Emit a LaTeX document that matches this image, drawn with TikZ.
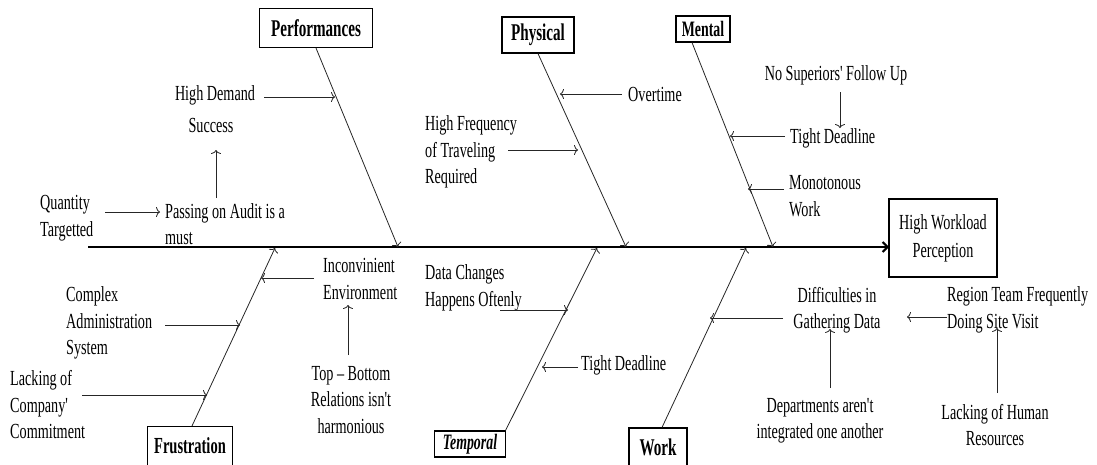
\documentclass[tikz,border=0pt]{standalone}
\usepackage{fontspec}
\setmainfont[FakeStretch=0.66, Ligatures=TeXOff]{Liberation Serif}
\newfontfamily\catfont[FakeStretch=0.63, Ligatures=TeXOff]{Liberation Serif}
\usetikzlibrary{arrows.meta}
\begin{document}
\begin{tikzpicture}[x=1pt,y=-1pt,
  lbl/.style={inner sep=0pt, font=\fontsize{21.5}{26.5}\selectfont, align=left},
  lblc/.style={lbl, align=center},
  cat/.style={draw, line width=1.1pt, inner sep=0pt, font=\catfont\bfseries\fontsize{24}{26}\selectfont},
  bone/.style={draw=black!85, line width=0.8pt, -{To[length=4pt,width=10pt]}},
  cause/.style={draw=black!85, line width=0.8pt, -{To[length=4pt,width=10pt]}},
  spine/.style={line width=2.6pt, -{Straight Barb[length=5pt,width=10pt,line width=2pt]}}
]
\useasboundingbox (0,0) rectangle (1097,464);
% category boxes
\node[cat, minimum width=113pt, minimum height=39pt] (perf) at (316,28) {Performances};
\node[cat, minimum width=72pt, minimum height=36pt] (phys) at (538,35) {Physical};
\node[cat, minimum width=54pt, minimum height=26pt, font=\catfont\bfseries\fontsize{22}{24}\selectfont] (ment) at (703,29) {Mental};
\node[cat, minimum width=85pt, minimum height=39pt, font=\catfont\bfseries\fontsize{23}{25}\selectfont] (frus) at (190,446) {Frustration};
\node[cat, minimum width=71pt, minimum height=26pt, font=\catfont\bfseries\itshape\fontsize{22}{24}\selectfont] (temp) at (470,444) {Temporal};
\node[cat, minimum width=58pt, minimum height=38pt] (work) at (658,447) {Work};
\node[draw, line width=1.1pt, inner sep=0pt, minimum width=108pt, minimum height=78pt, align=center, font=\fontsize{21.5}{28}\selectfont] (hwp) at (943,238) {High Workload\\Perception};
% spine
\coordinate (sp0) at (88,247);
\coordinate (sp1) at (889,247);
\draw[spine] (sp0) -- (sp1);
% bone ends on spine
\coordinate (pe) at (398,247);
\coordinate (phe) at (626,247);
\coordinate (me) at (773,247);
\coordinate (fe) at (275,248);
\coordinate (te) at (597,248);
\coordinate (we) at (746,248);
\draw[bone] (perf.south) -- (pe);
\draw[bone] (phys.south) -- (phe);
\draw[bone] ([xshift=-11pt]ment.south) -- (me);
\draw[bone] ([xshift=2pt]frus.north) -- (fe);
\draw[bone] ([xshift=-0.5pt]temp.north east) -- (te);
\draw[bone] ([xshift=4pt]work.north) -- (we);
% text labels
\node[lblc] (hd) at (215,95) {High Demand};
\node[lblc] (succ) at (211,125) {Success};
\node[lbl, anchor=west] (pass) at (165,224) {Passing on Audit is a\\must};
\node[lbl, anchor=west] (qt) at (40,218) {Quantity\\Targetted};
\node[lbl, anchor=west] (ot) at (628,94) {Overtime};
\node[lbl, anchor=west] (hft) at (425,152) {High Frequency\\of Traveling\\Required};
\node[lblc] (nsf) at (836,75) {No Superiors' Follow Up};
\node[lbl, anchor=west] (td1) at (790,138) {Tight Deadline};
\node[lbl, anchor=west] (mw) at (789,196) {Monotonous\\Work};
\node[lbl, anchor=west] (ie) at (323,279) {Inconvinient\\Environment};
\node[lblc] (tb) at (351,400) {Top – Bottom\\Relations isn't\\harmonious};
\node[lbl, anchor=west] (cas) at (66,323) {Complex\\Administration\\System};
\node[lbl, anchor=west] (lcc) at (10,405) {Lacking of\\Company'\\Commitment};
\node[lbl, anchor=west] (dc) at (425,288) {Data Changes\\Happens Oftenly};
\node[lbl, anchor=west] (td2) at (581,365) {Tight Deadline};
\node[lblc] (dgd) at (837,310) {Difficulties in\\Gathering Data};
\node[lbl, anchor=west] (rt) at (947,310) {Region Team Frequently\\Doing Site Visit};
\node[lblc] (dep) at (820,421) {Departments aren't\\integrated one another};
\node[lblc] (lhr) at (995,425) {Lacking of Human\\Resources};
% cause arrows
\coordinate (a1s) at (264,97);  \coordinate (a1e) at (335,97);
\coordinate (a2s) at (216,198); \coordinate (a2e) at (216,150);
\coordinate (a3s) at (105,212); \coordinate (a3e) at (160,212);
\coordinate (a4s) at (622,94);  \coordinate (a4e) at (560,94);
\coordinate (a5s) at (508,150); \coordinate (a5e) at (578,150);
\coordinate (a6s) at (840,92);  \coordinate (a6e) at (840,128);
\coordinate (a7s) at (785,136); \coordinate (a7e) at (730,136);
\coordinate (a8s) at (784,189); \coordinate (a8e) at (748,189);
\coordinate (a9s) at (314,278); \coordinate (a9e) at (261,278);
\coordinate (a10s) at (348,355); \coordinate (a10e) at (348,305);
\coordinate (a11s) at (165,325); \coordinate (a11e) at (240,325);
\coordinate (a12s) at (82,395);  \coordinate (a12e) at (207,395);
\coordinate (a13s) at (500,310); \coordinate (a13e) at (568,310);
\coordinate (a14s) at (578,367); \coordinate (a14e) at (542,367);
\coordinate (a15s) at (783,318); \coordinate (a15e) at (710,318);
\coordinate (a16s) at (947,317); \coordinate (a16e) at (907,317);
\coordinate (a17s) at (830,388); \coordinate (a17e) at (830,329);
\coordinate (a18s) at (997,393); \coordinate (a18e) at (997,328);
\foreach \i in {1,...,18} {\draw[cause] (a\i s) -- (a\i e);}
\end{tikzpicture}
\end{document}
